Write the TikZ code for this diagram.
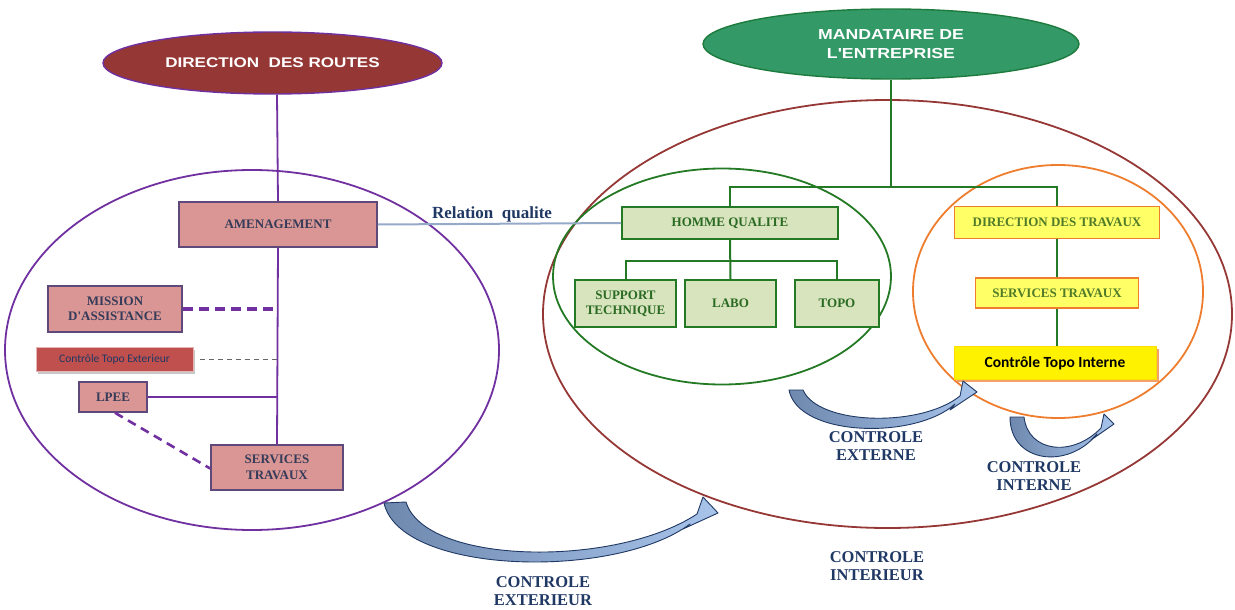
\documentclass[tikz,border=0pt]{standalone}
\usepackage{fontspec}
\setmainfont{Liberation Serif}[Ligatures=TeXOff]
\newfontfamily\titlefont[FakeStretch=1.22,Ligatures=TeXOff]{Liberation Sans}
\newfontfamily\calfont{Carlito}
\usetikzlibrary{shapes.geometric,shadows}
\definecolor{purp}{HTML}{7030A0}
\definecolor{darkred}{HTML}{953735}
\definecolor{boxpurp}{HTML}{5F497A}
\definecolor{boxpink}{HTML}{D99694}
\definecolor{boxtxt}{HTML}{353B58}
\definecolor{ctered}{HTML}{C0504D}
\definecolor{mandgreen}{HTML}{339966}
\definecolor{mandborder}{HTML}{1E7B3E}
\definecolor{dgreen}{HTML}{247A24}
\definecolor{gfill}{HTML}{D7E4BD}
\definecolor{gtxt}{HTML}{2A6A22}
\definecolor{orng}{HTML}{EE7D2E}
\definecolor{yfill}{HTML}{FFFF66}
\definecolor{ytxt}{HTML}{4F7A28}
\definecolor{relblue}{HTML}{95A9C9}
\definecolor{navy}{HTML}{1F3864}
\definecolor{arrdark}{HTML}{6E88AE}
\definecolor{arrlight}{HTML}{A8C4EA}
\begin{document}
\begin{tikzpicture}[x=1pt,y=-1pt,
  container/.style={ellipse,inner sep=0pt,line width=1.8pt},
  lbox/.style={draw=boxpurp,fill=boxpink,line width=1.6pt,text=boxtxt,
    font=\bfseries\fontsize{13}{15.5}\selectfont,align=center,inner sep=0pt},
  gbox/.style={draw=dgreen,fill=gfill,line width=1.6pt,text=gtxt,
    font=\bfseries\fontsize{13}{15}\selectfont,align=center,inner sep=0pt},
  ybox/.style={draw=orng,fill=yfill,line width=1.6pt,text=ytxt,
    font=\bfseries\fontsize{13}{15}\selectfont,align=center,inner sep=0pt},
  ctlbl/.style={text=navy,font=\bfseries\fontsize{16.5}{18}\selectfont,align=center,inner sep=0pt},
  curvarrow/.style={left color=arrdark,right color=arrlight,draw=navy,line width=0.9pt,line join=round},
  plink/.style={draw=purp,line width=1.8pt},
  glink/.style={draw=dgreen,line width=2pt}
]
\useasboundingbox (0,0) rectangle (1235,610);

% containers
\node[container,draw=purp,minimum width=494pt,minimum height=360pt] (LE) at (252,350) {};
\node[container,draw=darkred,minimum width=689pt,minimum height=428pt] (RE) at (887.5,314) {};
\node[container,draw=dgreen,minimum width=338pt,minimum height=216pt] (GE) at (722,276.5) {};
\node[container,draw=orng,minimum width=290pt,minimum height=253pt] (OE) at (1058,291.5) {};

% title ellipses
\node[ellipse,draw=purp,fill=darkred,line width=1.4pt,minimum width=339pt,minimum height=62pt,inner sep=0pt,
  text=white,font=\titlefont\bfseries\fontsize{14}{16}\selectfont] (DR) at (272.5,63) {DIRECTION\ \ DES ROUTES};
\node[ellipse,draw=mandborder,fill=mandgreen,line width=1.4pt,minimum width=376pt,minimum height=70pt,inner sep=0pt,
  text=white,align=center,font=\titlefont\bfseries\fontsize{14.5}{19}\selectfont] (MD) at (891,44) {MANDATAIRE DE\\L'ENTREPRISE};

% left boxes
\node[lbox,minimum width=198pt,minimum height=45pt] (AM) at (278,224.5) {AMENAGEMENT};
\node[lbox,minimum width=134pt,minimum height=46pt] (MA) at (115,309) {MISSION\\D'ASSISTANCE};
\node[draw=boxpink!70!white,fill=ctered,line width=1pt,minimum width=157pt,minimum height=24pt,inner sep=0pt,
  text=navy,font=\calfont\fontsize{11.5}{13}\selectfont,
  drop shadow={shadow xshift=2pt,shadow yshift=-2.5pt,fill=gray!55,opacity=0.8}] (CTE) at (114.5,359) {Contr\^ole Topo Exterieur};
\node[lbox,minimum width=68pt,minimum height=30pt] (LP) at (113,397) {LPEE};
\node[lbox,minimum width=132pt,minimum height=45pt] (ST) at (277,467.5) {SERVICES\\TRAVAUX};

% left connectors
\draw[plink] (ST.north |- DR.south) -- (AM.north);
\draw[plink] (AM.south) -- (ST.north);
\draw[purp,line width=3.2pt,dash pattern=on 10pt off 6pt] (MA.east) -- (MA.east -| ST.north);
\draw[gray!80!black,line width=0.9pt,dash pattern=on 5pt off 4pt] ([xshift=6pt]CTE.east) -- (CTE.east -| ST.north);
\draw[plink] (LP.east) -- (LP.east -| ST.north);
\draw[purp,line width=2.6pt,dash pattern=on 9pt off 6pt] ([xshift=2pt]LP.south) -- ([yshift=-1pt]ST.west);

% right green part
\node[gbox,minimum width=216pt,minimum height=32pt] (HQ) at (730,223) {HOMME QUALITE};
\node[gbox,minimum width=101pt,minimum height=47pt] (SUP) at (625.5,303.5) {SUPPORT\\TECHNIQUE};
\node[gbox,minimum width=91pt,minimum height=47pt] (LABO) at (730.5,303.5) {LABO};
\node[gbox,minimum width=84pt,minimum height=47pt] (TOPO) at (837,303.5) {TOPO};
\coordinate (J) at (891,187);
\coordinate (K) at (730,261);
\draw[glink] (MD.south) -- (J);
\draw[glink] (HQ.north) |- (J) -| (1057,206);
\draw[glink] (HQ.south) -- (LABO.north);
\draw[glink] (SUP.north) |- (K) -| (TOPO.north);

% right orange part
\node[ybox,minimum width=205pt,minimum height=32pt] (DT) at (1057,222.5) {DIRECTION DES TRAVAUX};
\node[ybox,minimum width=163pt,minimum height=30pt] (STR) at (1057,293) {SERVICES TRAVAUX};
\node[draw=yellow!80!orange,fill=yellow,line width=1pt,minimum width=202pt,minimum height=33pt,inner sep=0pt,
  text=black,font=\calfont\bfseries\fontsize{15.5}{17}\selectfont,
  drop shadow={shadow xshift=2.5pt,shadow yshift=-2pt,fill=orng!80,opacity=0.9}] (CTI) at (1055,363) {Contr\^ole Topo Interne};
\draw[glink] (DT.south) -- (STR.north);
\draw[glink] (STR.south) -- (STR.south |- CTI.north);

% relation qualite
\draw[relblue,line width=2pt] (AM.east) -- (HQ.west);
\node[text=navy,font=\bfseries\fontsize{17}{19}\selectfont,inner sep=0pt] (RQ) at (492,214) {Relation\ \ qualite};

% curved arrows
\path[curvarrow] (384,503) .. controls (400,575) and (615,580) .. (690,524)
  -- (683,529) -- (718,513) -- (703,497) -- (697,514)
  .. controls (615,568) and (425,565) .. (406,502) -- cycle;
\path[curvarrow] (789,390) .. controls (798,437) and (915,440) .. (955,404)
  -- (950,410) -- (977,392) -- (963,381) -- (960,396)
  .. controls (920,428) and (818,425) .. (803,390) -- cycle;
\path[curvarrow] (1010,417) .. controls (1010,463) and (1068,470) .. (1097,434)
  -- (1091,440) -- (1114,424) -- (1104,414) -- (1101,428)
  .. controls (1072,458) and (1028,452) .. (1024,417) -- cycle;

% labels
\node[ctlbl] (LEXT) at (543,591) {CONTROLE\\EXTERIEUR};
\node[ctlbl] (LEXN) at (876,446) {CONTROLE\\EXTERNE};
\node[ctlbl] (LINN) at (1034,476) {CONTROLE\\INTERNE};
\node[ctlbl] (LINT) at (877,566) {CONTROLE\\INTERIEUR};
\end{tikzpicture}
\end{document}
